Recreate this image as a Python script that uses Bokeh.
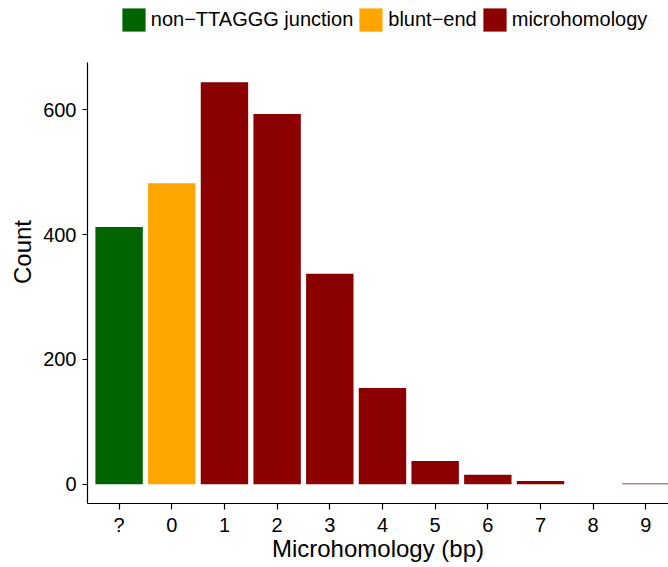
from bokeh.plotting import figure
from bokeh.models import (ColumnDataSource, Range1d, FixedTicker, Legend, LegendItem)
from bokeh.embed import file_html
from bokeh.resources import INLINE

# ---- data ----
categories = ["?", "0", "1", "2", "3", "4", "5", "6", "7", "8", "9"]
counts = [412, 482, 644, 593, 337, 154, 37, 15, 5, 0, 1]
groups = ["non\u2212TTAGGG junction", "blunt\u2212end"] + ["microhomology"] * 9
legend_order = ["non\u2212TTAGGG junction", "blunt\u2212end", "microhomology"]
group_colors = {"non\u2212TTAGGG junction": "#006400",
                "blunt\u2212end": "#FFA500",
                "microhomology": "#8B0000"}
y_ticks = [0, 200, 400, 600]

xpos = list(range(len(categories)))
src = ColumnDataSource(dict(x=xpos, top=counts, group=groups,
                            color=[group_colors[g] for g in groups]))

FONT = "Liberation Sans"

# frame runs to the top of the canvas so the legend (inside it) is not clipped;
# the y-axis line is bounded to the data panel
p = figure(width=668, height=567, output_backend="svg", toolbar_location=None,
           x_range=Range1d(-0.6, 10.43), y_range=Range1d(-31, 775),
           min_border_left=87, min_border_right=0, min_border_top=0,
           min_border_bottom=64)
p.outline_line_color = None
p.xgrid.visible = False
p.ygrid.visible = False
p.background_fill_color = "white"
p.border_fill_color = "white"

r = p.vbar(x="x", top="top", bottom=0, width=0.9, fill_color="color",
           line_color=None, source=src)

for ax in (p.xaxis[0], p.yaxis[0]):
    ax.axis_line_color = "black"
    ax.axis_line_width = 1.2
    ax.major_tick_line_color = "black"
    ax.major_tick_line_width = 1.2
    ax.major_tick_in = 0
    ax.major_tick_out = 5
    ax.minor_tick_line_color = None
    ax.major_label_text_font = FONT
    ax.major_label_text_font_size = "20px"
    ax.major_label_text_color = "black"
    ax.axis_label_text_font = FONT
    ax.axis_label_text_font_size = "24px"
    ax.axis_label_text_font_style = "normal"
    ax.axis_label_text_color = "black"
    ax.major_label_standoff = 6

p.xaxis.ticker = FixedTicker(ticks=xpos)
p.xaxis.major_label_overrides = {i: c for i, c in enumerate(categories)}
p.xaxis.axis_label = "Microhomology (bp)"
p.xaxis.axis_label_standoff = -4
p.xaxis.major_tick_out = 6
p.xaxis.major_label_standoff = 4

p.yaxis.ticker = FixedTicker(ticks=y_ticks)
p.yaxis.bounds = (-31, 675)
p.yaxis.axis_label = "Count"
p.yaxis.axis_label_standoff = 4

items = [LegendItem(label=g, renderers=[r], index=groups.index(g)) for g in legend_order]
legend = Legend(items=items, location=(31.8, 468.6), orientation="horizontal",
                padding=0, margin=0, spacing=3, label_standoff=3,
                glyph_width=29, glyph_height=29, label_height=29,
                label_text_font=FONT, label_text_font_size="20px",
                label_text_color="black",
                background_fill_alpha=0, border_line_alpha=0)
p.add_layout(legend, "center")

open("out.html", "w").write(file_html(p, INLINE))
